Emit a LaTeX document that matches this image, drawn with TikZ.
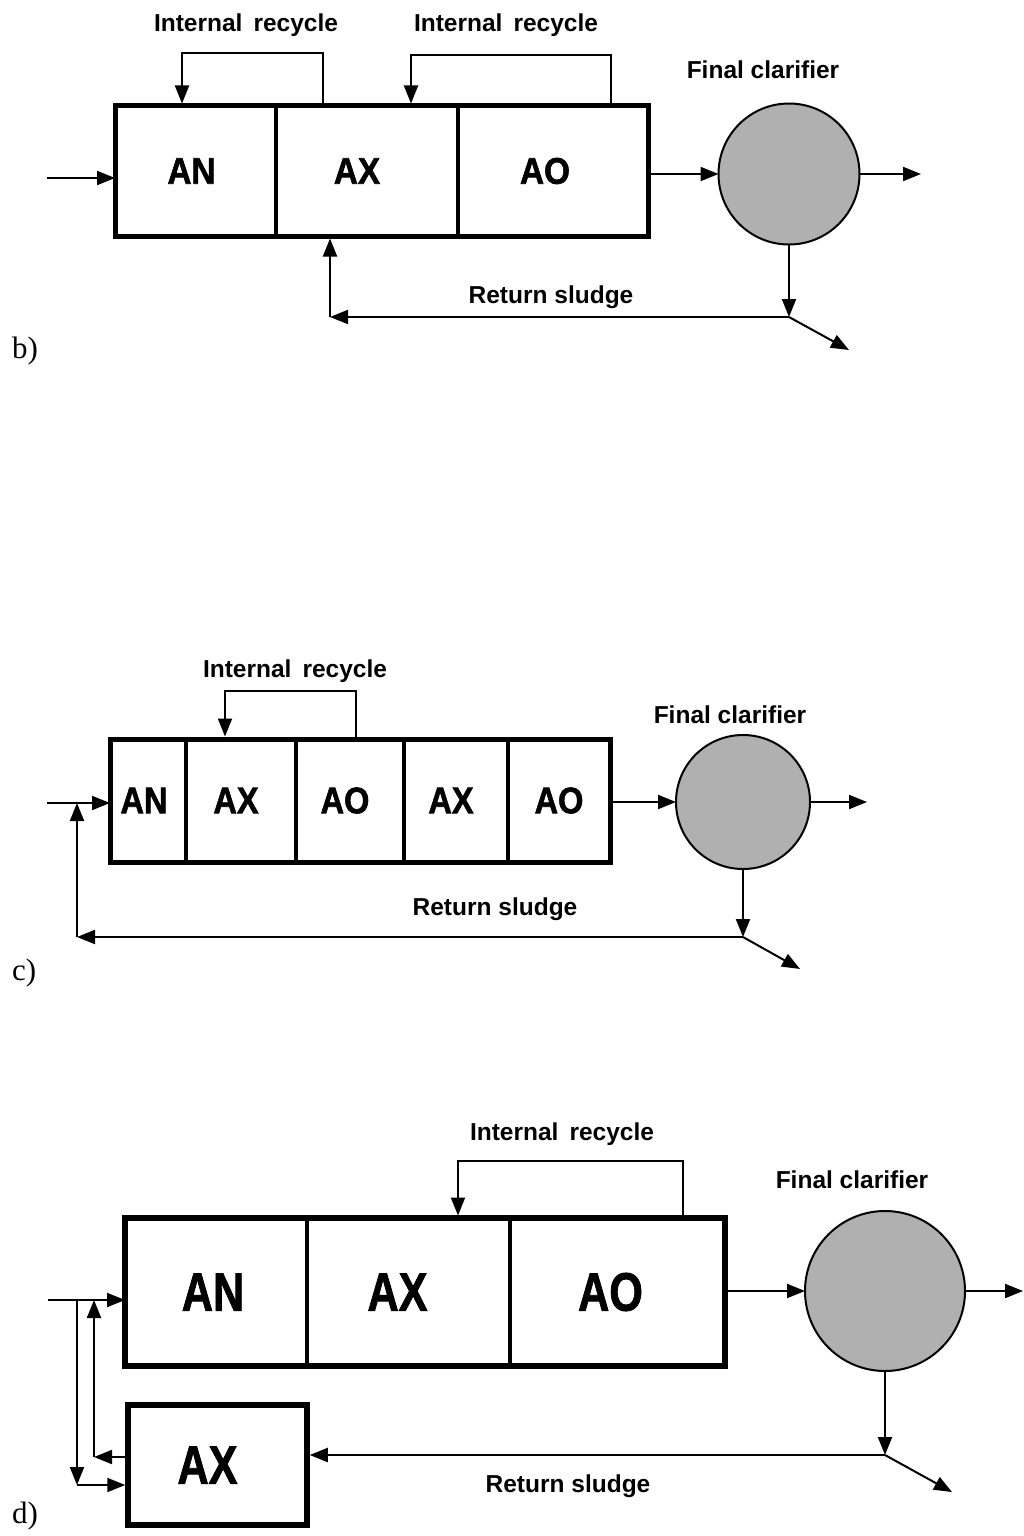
\documentclass[tikz,border=0pt]{standalone}
\usepackage{graphicx}
\usepackage{fontspec}
\setmainfont{Liberation Sans}
\newfontfamily\zonefont{Liberation Sans}[BoldFeatures={FakeBold=1.6}]
\newfontfamily\panelfont{Liberation Serif}
\usetikzlibrary{arrows.meta,calc}

\definecolor{clargray}{RGB}{176,176,176}
% narrowed zone label, moved left by half of the trailing space #2
\newcommand\zonetext[3]{\scalebox{#1}[1]{#3}\hspace*{#2}}

\tikzset{
  x=1pt, y=-1pt,
  flow/.style={line width=2pt, -{Triangle[length=18pt,width=14pt]}},
  tank/.style={line width=5pt},
  wall/.style={line width=4pt},
  cell/.style={rectangle, inner sep=0pt, outer sep=0pt},
  zonemid/.style={font=\fontsize{37}{42}\zonefont\bfseries},
  zonebig/.style={font=\fontsize{54}{60}\zonefont\bfseries},
  clar/.style={circle, draw, line width=2pt, fill=clargray, inner sep=0pt, outer sep=0pt},
  tag/.style={font=\fontsize{24.5}{28}\selectfont\bfseries, anchor=base, inner sep=0pt},
  paneltag/.style={font=\fontsize{31}{34}\selectfont\panelfont, anchor=base west, inner sep=0pt},
}

\begin{document}
\begin{tikzpicture}
\useasboundingbox[fill=white] (0,0) rectangle (1023,1536);

% ---------------- b) AN / AX / AO with two internal recycles ----------------
\node[cell, zonemid, minimum width=161pt, minimum height=130pt] (bAN) at (195.5,171) {\zonetext{0.9}{8pt}{AN}};
\node[cell, zonemid, minimum width=182pt, minimum height=130pt] (bAX) at (367,171) {\zonetext{0.9}{20pt}{AX}};
\node[cell, zonemid, minimum width=190pt, minimum height=130pt] (bAO) at (553,171) {\zonetext{0.9}{16pt}{AO}};
\draw[tank] (bAN.north west) rectangle (bAO.south east);
\draw[wall] (bAN.north east) -- (bAN.south east);
\draw[wall] (bAX.north east) -- (bAX.south east);

\node[tag] (brec1) at (246,32) {Internal\hspace{0.45em}recycle};
\node[tag] (brec2) at (506,32) {Internal\hspace{0.45em}recycle};
\draw[flow, shorten >=2.5pt] ($(bAX.north west)+(47,0)$) -- ++(0,-53) -| ($(bAN.north)+(-13.5,0)$);
\draw[flow, shorten >=2.5pt] ($(bAO.north west)+(153,0)$) -- ++(0,-51) -| ($(bAX.north west)+(135,0)$);

\node[clar, minimum size=141pt] (bclar) at (789,174) {};
\node[tag] (bclarT) at (763,79) {Final clarifier};
\coordinate (bin) at (47,178);
\coordinate (bout) at (921,174);
\coordinate (bj) at (789,317);
\coordinate (bw) at (849,350);
\coordinate (bcorner) at (330,317);
\draw[flow] (bin) -- (bin -| bAN.west);
\draw[flow] (bclar.west -| bAO.east) -- (bclar.west);
\draw[flow] (bclar.east) -- (bout);
\draw[flow] (bclar.south) -- (bj);
\draw[flow] (bj) -- (bw);
\draw[flow] (bj) -- (bcorner);
\draw[flow, shorten >=2.5pt] (bcorner) -- (bcorner |- bAX.south);
\node[tag] (bretT) at (551,303) {Return sludge};
\node[paneltag] (btag) at (12,358) {b)};

% ---------------- c) AN / AX / AO / AX / AO ----------------
\node[cell, zonemid, minimum width=76pt, minimum height=123pt] (cAN) at (148,800.5) {\zonetext{0.88}{8pt}{AN}};
\node[cell, zonemid, minimum width=110pt, minimum height=123pt] (cAX) at (241,800.5) {\zonetext{0.88}{10pt}{AX}};
\node[cell, zonemid, minimum width=108pt, minimum height=123pt] (cAO) at (350,800.5) {\zonetext{0.88}{10pt}{AO}};
\node[cell, zonemid, minimum width=104pt, minimum height=123pt] (cAXb) at (456,800.5) {\zonetext{0.88}{10pt}{AX}};
\node[cell, zonemid, minimum width=102pt, minimum height=123pt] (cAOb) at (559,800.5) {\zonetext{0.88}{0pt}{AO}};
\draw[tank] (cAN.north west) rectangle (cAOb.south east);
\draw[wall] (cAN.north east) -- (cAN.south east);
\draw[wall] (cAX.north east) -- (cAX.south east);
\draw[wall] (cAO.north east) -- (cAO.south east);
\draw[wall] (cAXb.north east) -- (cAXb.south east);

\node[tag] (crec) at (295,677) {Internal\hspace{0.45em}recycle};
\draw[flow, shorten >=2.5pt] ($(cAO.north west)+(60,0)$) -- ++(0,-48) -| ($(cAX.north west)+(39,0)$);

\node[clar, minimum size=134pt] (cclar) at (743,802) {};
\node[tag] (cclarT) at (730,723) {Final clarifier};
\coordinate (cin) at (47,803);
\coordinate (cout) at (867,802);
\coordinate (cj) at (743,937);
\coordinate (cw) at (800,969);
\coordinate (ccorner) at (77,937);
\draw[flow] (cin) -- (cin -| cAN.west);
\draw[flow] (cclar.west -| cAOb.east) -- (cclar.west);
\draw[flow] (cclar.east) -- (cout);
\draw[flow] (cclar.south) -- (cj);
\draw[flow] (cj) -- (cw);
\draw[flow] (cj) -- (ccorner);
\draw[flow] (ccorner) -- (ccorner |- cin);
\node[tag] (cretT) at (495,915) {Return sludge};
\node[paneltag] (ctag) at (12,980) {c)};

% ---------------- d) AN / AX / AO with side-stream AX ----------------
\node[cell, zonebig, minimum width=182pt, minimum height=148pt] (dAN) at (216,1292) {\zonetext{0.8}{6pt}{AN}};
\node[cell, zonebig, minimum width=203pt, minimum height=148pt] (dAX) at (408.5,1292) {\zonetext{0.8}{22pt}{AX}};
\node[cell, zonebig, minimum width=215pt, minimum height=148pt] (dAO) at (617.5,1292) {\zonetext{0.8}{14pt}{AO}};
\draw[tank, line width=5.5pt] (dAN.north west) rectangle (dAO.south east);
\draw[wall] (dAN.north east) -- (dAN.south east);
\draw[wall] (dAX.north east) -- (dAX.south east);

\node[cell, zonebig, draw, line width=5.5pt, minimum width=179pt, minimum height=120pt] (dAXs) at (217.5,1465) {\zonetext{0.8}{20pt}{AX}};

\node[tag] (drec) at (562,1140) {Internal\hspace{0.45em}recycle};
\draw[flow, shorten >=2.5pt] ($(dAO.north west)+(173,0)$) -- ++(0,-57) -| ($(dAX.north west)+(151,0)$);

\node[clar, minimum size=160pt] (dclar) at (885,1291) {};
\node[tag] (dclarT) at (852,1188) {Final clarifier};
\coordinate (din) at (48,1300);
\coordinate (dsplit) at (77,1300);
\coordinate (dlow) at (77,1485);
\coordinate (dhi) at (94,1457);
\coordinate (dout) at (1023,1291);
\coordinate (dj) at (885,1455);
\coordinate (dw) at (952,1492);
\draw[flow] (din) -- (din -| dAN.west);
\draw[flow] (dsplit) -- (dlow);
\draw[flow, shorten >=2.75pt] (dlow) -- (dlow -| dAXs.west);
\draw[flow] ($(dAXs.west |- dhi)+(-2.75,0)$) -- (dhi);
\draw[flow] (dhi) -- (dhi |- din);
\draw[flow] (dclar.west -| dAO.east) -- (dclar.west);
\draw[flow] (dclar.east) -- (dout);
\draw[flow] (dclar.south) -- (dj);
\draw[flow] (dj) -- (dw);
\draw[flow, shorten >=2.75pt] (dj) -- (dj -| dAXs.east);
\node[tag] (dretT) at (568,1492) {Return sludge};
\node[paneltag] (dtag) at (12,1523) {d)};
\end{tikzpicture}
\end{document}
